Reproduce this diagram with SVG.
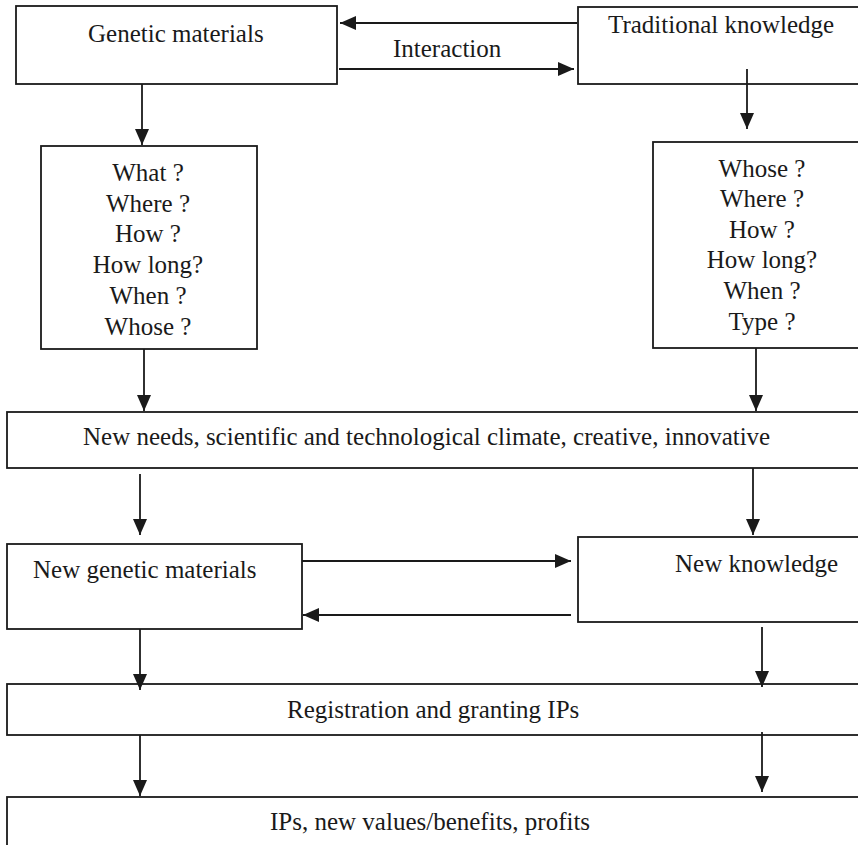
<svg xmlns="http://www.w3.org/2000/svg" width="858" height="845" viewBox="0 0 858 845">
<style>
.box{fill:#fff;stroke:#1a1a1a;stroke-width:1.8}
.t{font-family:"Liberation Serif","Times New Roman",serif;font-size:25px;fill:#1a1a1a}
.m{text-anchor:middle}
.c{stroke:#1a1a1a;stroke-width:1.8;fill:none;marker-end:url(#ah)}
</style>
<defs>
<marker id="ah" markerUnits="userSpaceOnUse" markerWidth="16" markerHeight="15" refX="16" refY="7" orient="auto">
<path d="M0,0 L16,7 L0,14 z" fill="#1a1a1a"/>
</marker>
</defs>
<rect width="858" height="845" fill="#fff"/>
<g id="genetic"><rect class="box" x="16" y="6" width="321" height="78"/><text class="t" x="88" y="42">Genetic materials</text></g>
<g id="traditional"><rect class="box" x="578" y="7" width="300" height="77"/><text class="t" x="608" y="33">Traditional knowledge</text></g>
<g id="interaction-label"><text class="t" x="393" y="57">Interaction</text></g>
<g id="q-left"><rect class="box" x="41" y="146" width="216" height="203"/>
<text class="t m" x="148" y="181">What ?</text>
<text class="t m" x="148" y="212">Where ?</text>
<text class="t m" x="148" y="242">How ?</text>
<text class="t m" x="148" y="273">How long?</text>
<text class="t m" x="148" y="304">When ?</text>
<text class="t m" x="148" y="335">Whose ?</text></g>
<g id="q-right"><rect class="box" x="653" y="142" width="230" height="206"/>
<text class="t m" x="762" y="177">Whose ?</text>
<text class="t m" x="762" y="207">Where ?</text>
<text class="t m" x="762" y="238">How ?</text>
<text class="t m" x="762" y="268">How long?</text>
<text class="t m" x="762" y="299">When ?</text>
<text class="t m" x="762" y="330">Type ?</text></g>
<g id="needs"><rect class="box" x="7" y="412" width="870" height="56"/><text class="t" x="83" y="445">New needs, scientific and technological climate, creative, innovative</text></g>
<g id="new-genetic"><rect class="box" x="7" y="544" width="295" height="85"/><text class="t" x="33" y="578">New genetic materials</text></g>
<g id="new-knowledge"><rect class="box" x="578" y="537" width="300" height="85"/><text class="t" x="675" y="572">New knowledge</text></g>
<g id="registration"><rect class="box" x="7" y="684" width="870" height="51"/><text class="t" x="287" y="718">Registration and granting IPs</text></g>
<g id="ips"><rect class="box" x="7" y="797" width="870" height="100"/><text class="t" x="270" y="830">IPs, new values/benefits, profits</text></g>
<g id="connectors">
<line class="c" x1="577" y1="23" x2="340" y2="23"/>
<line class="c" x1="339" y1="69" x2="574" y2="69"/>
<line class="c" x1="142" y1="84" x2="142" y2="145"/>
<line class="c" x1="747" y1="69" x2="747" y2="129"/>
<line class="c" x1="144" y1="349" x2="144" y2="411"/>
<line class="c" x1="756" y1="348" x2="756" y2="411"/>
<line class="c" x1="140" y1="474" x2="140" y2="535"/>
<line class="c" x1="753" y1="468" x2="753" y2="535"/>
<line class="c" x1="302" y1="561" x2="571" y2="561"/>
<line class="c" x1="571" y1="615" x2="303" y2="615"/>
<line class="c" x1="140" y1="629" x2="140" y2="690"/>
<line class="c" x1="762" y1="627" x2="762" y2="687"/>
<line class="c" x1="140" y1="735" x2="140" y2="796"/>
<line class="c" x1="762" y1="732" x2="762" y2="792"/>
</g>
</svg>
